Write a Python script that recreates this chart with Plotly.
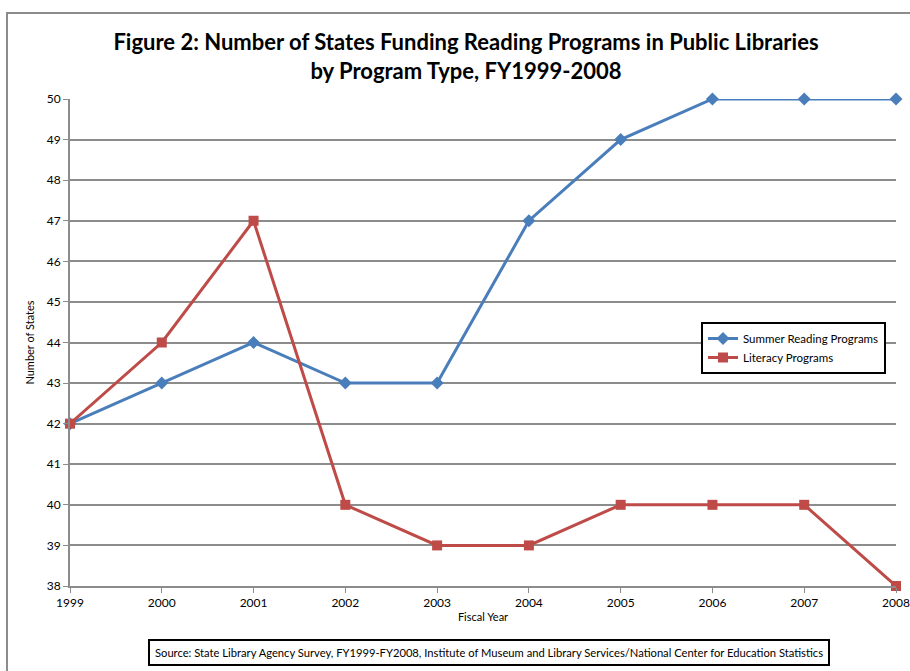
import plotly.graph_objects as go

years = [1999, 2000, 2001, 2002, 2003, 2004, 2005, 2006, 2007, 2008]
summer_reading = [42, 43, 44, 43, 43, 47, 49, 50, 50, 50]
literacy = [42, 44, 47, 40, 39, 39, 40, 40, 40, 38]
y_ticks = list(range(38, 51))

FONT = "Lato"
GRID = "#8c8c8c"

fig = go.Figure()
fig.add_trace(go.Scatter(
    x=years, y=summer_reading, name="Summer Reading Programs",
    mode="lines+markers", cliponaxis=False,
    line=dict(color="#4A7EBB", width=3),
    marker=dict(symbol="diamond", size=10, color="#4A7EBB"),
))
fig.add_trace(go.Scatter(
    x=years, y=literacy, name="Literacy Programs",
    mode="lines+markers", cliponaxis=False,
    line=dict(color="#BE4B48", width=3),
    marker=dict(symbol="square", size=10, color="#BE4B48"),
))

L, R, T, B = 70, 14, 99, 85
W, H = 910, 671
pw = W - L - R
ph = H - T - B

def px2x(px):
    return (px - L) / pw

def py2y(py):
    return (H - B - py) / ph

fig.update_layout(
    width=W, height=H,
    margin=dict(l=L, r=R, t=T, b=B, autoexpand=False),
    paper_bgcolor="white", plot_bgcolor="white",
    font=dict(family=FONT, color="black", size=12),
    title=dict(
        text="<b>Figure 2: Number of States Funding Reading Programs in Public Libraries<br>by Program Type, FY1999-2008</b>",
        x=466 / W, xref="container", xanchor="center",
        y=1 - 50 / H, yref="container", yanchor="middle",
        font=dict(family=FONT, size=22, color="black"),
    ),
    xaxis=dict(
        range=[1999, 2008], tickmode="array", tickvals=years,
        ticktext=[str(y) for y in years],
        showgrid=False, zeroline=False, automargin=False,
        showline=True, linecolor=GRID, linewidth=2,
        ticks="outside", ticklen=5, tickcolor=GRID, tickwidth=1,
        tickfont=dict(size=12),
        title=dict(text="Fiscal Year", font=dict(size=11), standoff=4),
    ),
    yaxis=dict(
        range=[38, 50], tickmode="array", tickvals=y_ticks,
        showgrid=True, gridcolor=GRID, gridwidth=1.5,
        zeroline=False, automargin=False,
        showline=True, linecolor=GRID, linewidth=2,
        ticks="outside", ticklen=5, tickcolor=GRID, tickwidth=1,
        tickfont=dict(size=12),
        title=dict(text="Number of States", font=dict(size=11), standoff=10),
    ),
    legend=dict(
        x=px2x(701), y=py2y(322), xanchor="left", yanchor="top",
        bordercolor="black", borderwidth=2, bgcolor="white",
        font=dict(size=11.5), itemwidth=30, tracegroupgap=4,
    ),
    shapes=[dict(
        type="rect", xref="paper", yref="paper",
        x0=px2x(7), x1=px2x(915), y0=py2y(680), y1=py2y(13),
        line=dict(color="#8c8c8c", width=2), fillcolor="rgba(0,0,0,0)",
        layer="below",
    )],
    annotations=[dict(
        text="Source: State Library Agency Survey, FY1999-FY2008, Institute of Museum and Library Services/National Center for Education Statistics",
        xref="paper", yref="paper", x=px2x(489), y=py2y(652),
        xanchor="center", yanchor="middle", showarrow=False,
        font=dict(size=11.2, family=FONT),
        bordercolor="black", borderwidth=2, borderpad=5, bgcolor="white",
    )],
)

fig.write_html("out.html", config={"displayModeBar": False},
               post_script="document.body.style.margin='0';")
